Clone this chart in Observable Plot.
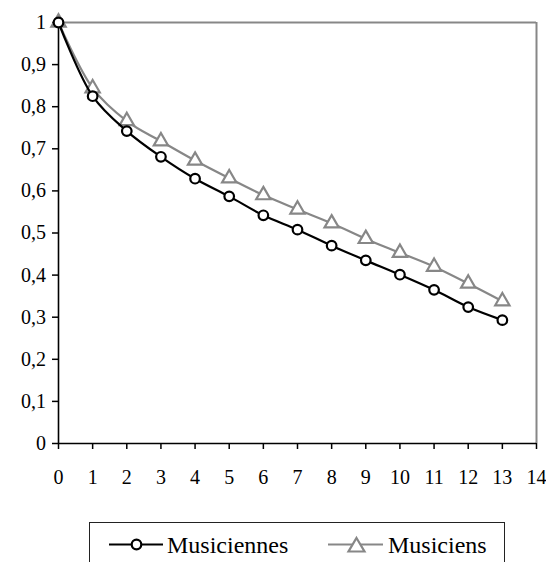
<!DOCTYPE html>
<html>
<head>
<meta charset="utf-8">
<script src="https://cdn.jsdelivr.net/npm/d3@7"></script>
<script src="https://cdn.jsdelivr.net/npm/@observablehq/plot@0.6"></script>
<style>
  html, body { margin: 0; padding: 0; background: #fff; overflow: hidden; }
  #chart { position: relative; width: 546px; height: 562px; }
  #legend { position: absolute; left: 89px; top: 522px; width: 416px; height: 60px;
    border: 1.3px solid #222; box-sizing: border-box; background: #fff; }
  #legend svg { position: absolute; left: 0; top: 0; }
</style>
</head>
<body>
<div id="chart"></div>
<script>
const years = [0,1,2,3,4,5,6,7,8,9,10,11,12,13];
const musiciennes = [1,0.825,0.742,0.681,0.629,0.587,0.542,0.508,0.470,0.435,0.401,0.365,0.324,0.293];
const musiciens   = [1,0.844,0.766,0.718,0.672,0.630,0.590,0.556,0.523,0.486,0.453,0.420,0.380,0.338];
const xTicks = [0,1,2,3,4,5,6,7,8,9,10,11,12,13,14];
const yTicks = [0,0.1,0.2,0.3,0.4,0.5,0.6,0.7,0.8,0.9,1];
const seriesNames = ["Musiciennes", "Musiciens"];

const fem = years.map((x, i) => ({x, y: musiciennes[i]}));
const mal = years.map((x, i) => ({x, y: musiciens[i]}));
const fmt = d => d3.format("~g")(d).replace(".", ",");
const GRAY = "#878787";
const FONT = "'Liberation Serif', 'DejaVu Serif', serif";

const plot = Plot.plot({
  width: 546,
  height: 500,
  marginLeft: 58,
  marginRight: 10,
  marginTop: 22,
  marginBottom: 57,
  style: {fontFamily: FONT, fontSize: "20px", color: "#000", background: "transparent"},
  x: {domain: [0, 14], label: null},
  y: {domain: [0, 1], label: null},
  marks: [
    Plot.ruleY([1], {stroke: GRAY, strokeWidth: 2}),
    Plot.ruleX([14], {stroke: GRAY, strokeWidth: 2}),
    Plot.ruleX([0], {stroke: "#000", strokeWidth: 1.6}),
    Plot.ruleY([0], {stroke: "#000", strokeWidth: 1.6}),
    Plot.axisX({ticks: xTicks, tickFormat: fmt, tickSize: 6, tickPadding: 20, stroke: "#000", strokeWidth: 1.5, fill: "#000", fontSize: 20}),
    Plot.axisY({ticks: yTicks, tickFormat: fmt, tickSize: 6, tickPadding: 6.5, stroke: "#000", strokeWidth: 1.5, fill: "#000", fontSize: 20}),
    Plot.line(mal, {x: "x", y: "y", stroke: GRAY, strokeWidth: 2.2, curve: "catmull-rom"}),
    Plot.dot(mal, {x: "x", y: "y", symbol: "triangle", r: 5.3, stroke: GRAY, strokeWidth: 2.2, fill: "#fff"}),
    Plot.line(fem, {x: "x", y: "y", stroke: "#000", strokeWidth: 2.2, curve: "catmull-rom"}),
    Plot.dot(fem, {x: "x", y: "y", symbol: "circle", r: 4.8, stroke: "#000", strokeWidth: 2.2, fill: "#fff"})
  ]
});
plot.style.position = "absolute";
plot.style.left = "0px";
plot.style.top = "0px";
const chart = document.getElementById("chart");
chart.appendChild(plot);

const legend = document.createElement("div");
legend.id = "legend";
legend.innerHTML = `
  <svg width="416" height="60" font-family="${FONT}" font-size="24">
    <line x1="19" y1="21.5" x2="73" y2="21.5" stroke="#000" stroke-width="2.2"/>
    <circle cx="46.5" cy="21.5" r="4.8" fill="#fff" stroke="#000" stroke-width="2.2"/>
    <text x="77" y="30" fill="#000">${seriesNames[0]}</text>
    <line x1="238" y1="21.5" x2="293" y2="21.5" stroke="${GRAY}" stroke-width="2.2"/>
    <polygon points="266.5,15 274.5,28.5 258.5,28.5" fill="#fff" stroke="${GRAY}" stroke-width="2.2"/>
    <text x="298" y="30" fill="#000">${seriesNames[1]}</text>
  </svg>`;
chart.appendChild(legend);
</script>
</body>
</html>
